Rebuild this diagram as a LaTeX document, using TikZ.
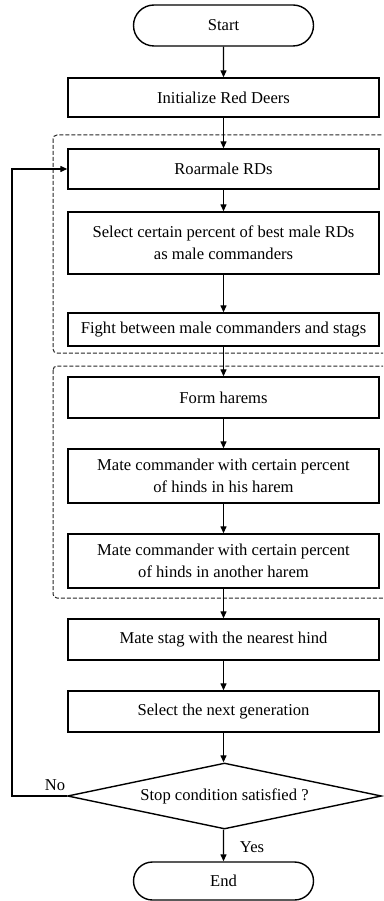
\documentclass[tikz,border=0pt]{standalone}
\usepackage{fontspec}
\setmainfont{Liberation Serif}
\usetikzlibrary{arrows.meta,shapes.geometric,shapes.misc}
\begin{document}
\begin{tikzpicture}[x=1pt,y=-1pt,
  every node/.style={font=\fontsize{16.6}{22}\selectfont},
  procbox/.style={draw,line width=1.4pt,minimum width=311pt,inner sep=0pt,align=center},
  term/.style={draw,line width=1.4pt,rounded rectangle,minimum width=180pt,inner sep=0pt},
  decision/.style={draw,line width=1.4pt,diamond,minimum width=314pt,minimum height=66pt,inner sep=0pt,aspect=4.7},
  arr/.style={line width=1.3pt,-{Triangle[length=7pt,width=6pt]}},
  grp/.style={dash pattern=on 4pt off 2pt,line width=1pt,rounded corners=4pt,draw=black!85},
  lbl/.style={inner sep=0pt}]
\useasboundingbox (0,0) rectangle (383,901);
\begin{scope}
\clip (0,0) rectangle (383,901);
\draw[grp] (53,135) rectangle (400,353);
\draw[grp] (53,366) rectangle (400,598);
\end{scope}
\node[term,minimum height=41pt] (start) at (223.5,25.5) {Start};
\node[procbox,minimum height=39pt] (init) at (223.5,97.5) {Initialize Red Deers};
\node[procbox,minimum height=40pt] (roar) at (223.5,169) {Roarmale RDs};
\node[procbox,minimum height=62pt] (sel) at (223.5,243) {Select certain percent of best male RDs\\as male commanders};
\node[procbox,minimum height=33pt] (fight) at (223.5,329.5) {Fight between male commanders and stags};
\node[procbox,minimum height=41pt] (form) at (223.5,397.5) {Form harems};
\node[procbox,minimum height=54pt] (mate1) at (223.5,476) {Mate commander with certain percent\\of hinds in his harem};
\node[procbox,minimum height=54pt] (mate2) at (223.5,561) {Mate commander with certain percent\\of hinds in another harem};
\node[procbox,minimum height=41pt] (stag) at (223.5,639.5) {Mate stag with the nearest hind};
\node[procbox,minimum height=41pt] (next) at (223.5,711.5) {Select the next generation};
\node[decision] (dia) at (224.5,796) {Stop condition satisfied ?};
\node[term,minimum height=38pt] (end) at (223.5,881) {End};
\node[lbl] (no) at (55,785) {No};
\node[lbl] (yes) at (252,847) {Yes};
\coordinate (loopc) at (12,169);
\draw[arr] (start) -- (init);
\draw[arr] (init) -- (roar);
\draw[arr] (roar) -- (sel);
\draw[arr] (sel) -- (fight);
\draw[arr] (fight) -- (form);
\draw[arr] (form) -- (mate1);
\draw[arr] (mate1) -- (mate2);
\draw[arr] (mate2) -- (stag);
\draw[arr] (stag) -- (next);
\draw[arr] (next) -- (next |- dia.north);
\draw[arr] (dia.south -| end) -- (end);
\draw[arr] (dia.west) -- (dia.west -| loopc) |- (roar.west);
\end{tikzpicture}
\end{document}
